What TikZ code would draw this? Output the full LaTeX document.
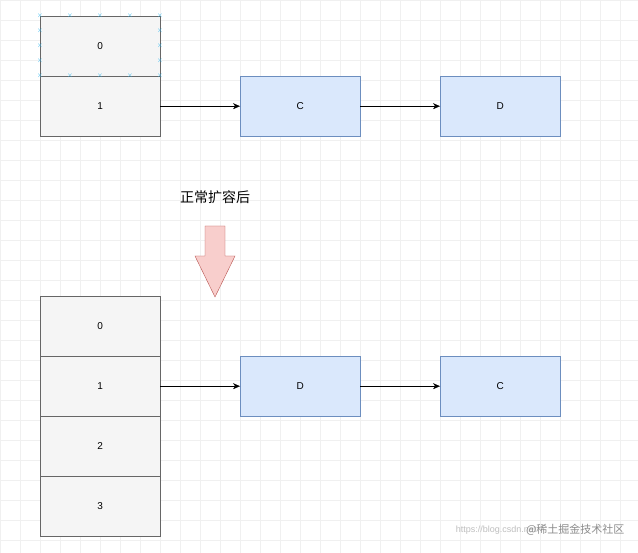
\documentclass[tikz,border=0pt]{standalone}
\usepackage{fontspec}
\setmainfont{Liberation Sans}
\newfontfamily\cjk{Noto Sans CJK SC}
\usetikzlibrary{arrows.meta}
\begin{document}
\begin{tikzpicture}[x=1pt,y=-1pt,
  cell/.style={draw=black!60,fill=black!4,minimum width=120pt,minimum height=60pt,inner sep=0pt,font=\fontsize{10}{12}\selectfont,anchor=north west},
  blue/.style={fill={rgb,255:red,218;green,232;blue,252},draw={rgb,255:red,108;green,142;blue,191},minimum width=120pt,minimum height=60pt,inner sep=0pt,font=\fontsize{10}{12}\selectfont,anchor=north west},
  arr/.style={-{Stealth[length=7pt,width=6pt]},black},
  mk/.style={text={rgb,255:red,41;green,182;blue,242},font=\fontsize{7}{7}\selectfont,inner sep=0pt}]
\useasboundingbox (0,0) rectangle (638,553);
\fill[white] (0,0) rectangle (638,553);
\foreach \i in {0,20,...,638} \draw[black!6,line width=0.5pt] (\i,0) -- (\i,553);
\foreach \j in {0,20,...,553} \draw[black!6,line width=0.5pt] (0,\j) -- (638,\j);
\node[cell] (a0) at (40,16) {0};
\node[cell] (a1) at (40,76) {1};
\node[blue] (c1) at (240,76) {C};
\node[blue] (d1) at (440,76) {D};
\draw[arr] (a1.east) -- (c1.west);
\draw[arr] (c1.east) -- (d1.west);
\foreach \x in {40,70,100,130,160} {\node[mk] at (\x,16) {$\times$}; \node[mk] at (\x,76) {$\times$};}
\foreach \y in {31,46,61} {\node[mk] at (40,\y) {$\times$}; \node[mk] at (160,\y) {$\times$};}
\node[font=\cjk\fontsize{14}{16}\selectfont] (t) at (215,197) {正常扩容后};
\draw[fill={rgb,255:red,248;green,206;blue,204},draw={rgb,255:red,184;green,84;blue,80}]
  (205,226) -- (225,226) -- (225,256) -- (235,256) -- (215,297) -- (195,256) -- (205,256) -- cycle;
\node[cell] (b0) at (40,296) {0};
\node[cell] (b1) at (40,356) {1};
\node[cell] (b2) at (40,416) {2};
\node[cell] (b3) at (40,476) {3};
\node[blue] (d2) at (240,356) {D};
\node[blue] (c2) at (440,356) {C};
\draw[arr] (b1.east) -- (d2.west);
\draw[arr] (d2.east) -- (c2.west);
\node[text=black!25,font=\fontsize{9}{10}\selectfont,anchor=east] (u) at (540,530) {https://blog.csdn.net};
\node[text=black!45,font=\cjk\fontsize{11}{12}\selectfont,anchor=east] (w) at (628,530) {@稀土掘金技术社区};
\end{tikzpicture}
\end{document}
